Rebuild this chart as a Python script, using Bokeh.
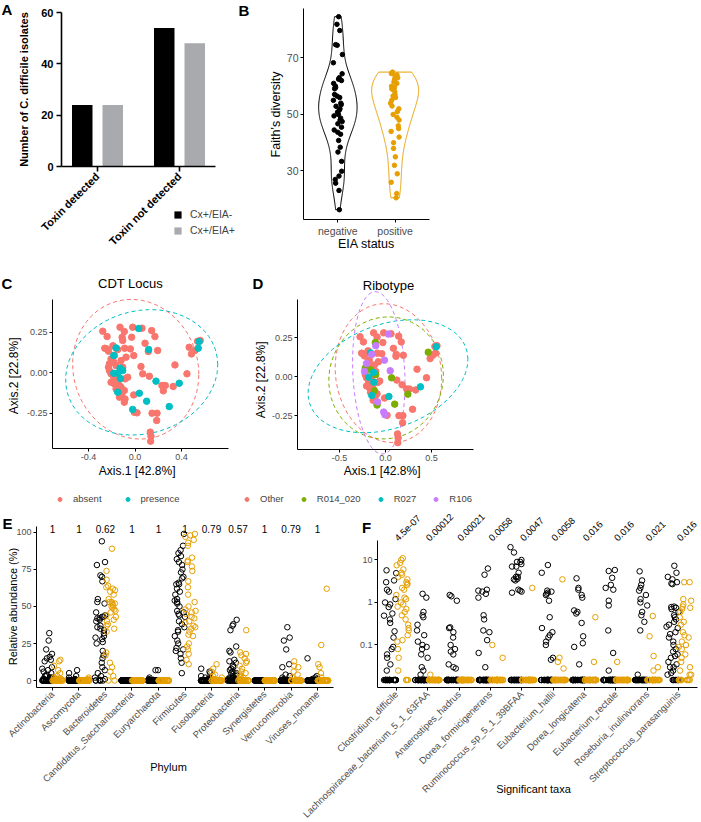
import numpy as np
from bokeh.plotting import figure
from bokeh.layouts import column, row
from bokeh.models import (ColumnDataSource, FixedTicker, Range1d, Label, LabelSet,
                          Legend, LegendItem, PrintfTickFormatter, LinearAxis, LogAxis,
                          LogScale)
from bokeh.transform import jitter, dodge
from bokeh.core.properties import value
from bokeh.embed import file_html
from bokeh.resources import INLINE

FONT = "Liberation Sans"
GREY30 = "#4D4D4D"
ORANGE = "#E69F00"
HUE = {"absent": "#F8766D", "presence": "#00BFC4", "Other": "#F8766D",
       "R014_020": "#7CAE00", "R027": "#00BFC4", "R106": "#C77CFF"}

# ---------------- data ----------------
# Panel A
a_status = ["Toxin detected", "Toxin not detected"]
a_eia_neg = [24, 54]   # Cx+/EIA-
a_eia_pos = [24, 48]   # Cx+/EIA+

# Panel B: Faith's diversity
b_groups = ["negative", "positive"]
b_faith_neg = [84.6, 81.9, 79.7, 74.7, 74.5, 71.2, 68.3, 64.4, 63, 62.5, 62, 61, 60, 59.5, 59.1,
               57.1, 56.5, 56, 55, 54, 53.5, 52.9, 52, 51.5, 50.8, 50, 49.5, 48.7, 48, 47.5, 46.7,
               45.5, 44.5, 43.7, 43, 40.8, 38.4, 36.7, 33.4, 29.9, 28.2, 27, 25.7, 23.1, 16.3]
b_faith_pos = [65, 64.5, 64, 63.5, 63, 62.5, 62, 61.5, 61, 60, 59.5, 59, 58, 57, 56.5, 56, 55,
               54, 53, 52, 51, 50, 49, 48, 46, 45, 44, 42, 40, 38, 35, 32, 29, 26, 22, 20.5]

# Panels C/D: PCoA
pc_axis1 = [-0.277, -0.240, -0.129, -0.092, -0.111, -0.106, -0.020, 0.060, 0.143, 0.171,
            0.086, 0.194, -0.011, -0.089, -0.149, -0.177, -0.243, -0.228, -0.206, -0.220,
            -0.228, -0.220, -0.183, -0.163, -0.206, -0.183, -0.149, -0.177, -0.134, -0.206,
            -0.163, -0.120, -0.092, -0.114, -0.086, -0.134, -0.092, -0.006, 0.017, -0.011,
            0.051, 0.066, 0.123, 0.231, 0.260, 0.243, 0.328, 0.343, 0.446, 0.465,
            0.485, 0.514, 0.537, 0.560, 0.146, 0.189, 0.186, 0.131, 0.137, 0.134,
            -0.086, -0.063, -0.106, -0.120, -0.077, -0.040, -0.029, -0.260, -0.190, 0.114,
            0.031, -0.163, -0.183, -0.129, -0.183, -0.149, -0.106, -0.126, -0.149, -0.020,
            0.037, 0.100, 0.180, 0.380, 0.294, 0.117, 0.543, 0.551]
pc_axis2 = [0.255, 0.222, 0.280, 0.253, 0.218, 0.198, 0.280, 0.274, 0.259, 0.222,
            0.181, 0.136, 0.105, 0.150, 0.142, 0.105, 0.146, 0.132, 0.084, 0.054,
            0.033, 0.012, 0.064, 0.043, -0.008, -0.029, -0.049, -0.070, -0.080, -0.060,
            -0.101, -0.091, -0.111, -0.132, -0.163, -0.152, -0.183, -0.245, -0.249, -0.138,
            0.037, -0.008, -0.023, -0.080, -0.080, -0.113, -0.086, 0.047, -0.008, 0.156,
            0.115, 0.136, 0.193, 0.198, -0.251, -0.251, -0.296, -0.368, -0.393, -0.424,
            -0.039, -0.029, 0.033, 0.074, 0.095, 0.146, 0.218, 0.150, 0.165, 0.130,
            0.272, 0.152, 0.105, 0.027, -0.004, -0.004, 0.012, -0.037, -0.121, -0.228,
            -0.128, -0.177, -0.053, -0.066, -0.210, 0.142, 0.150, 0.191]
cdt_locus = ["absent"] * 70 + ["presence"] * 18
O, G, C27, P = "Other", "R014_020", "R027", "R106"
ribotype = [O, O, O, O, G, P, O, O, O, O,
            O, O, P, O, P, O, O, O, P, G,
            P, O, O, G, O, O, O, O, O, O,
            O, G, O, O, P, O, G, P, O, O,
            P, G, O, O, O, G, O, O, O, G,
            O, O, O, O, O, O, O, O, O, O,
            O, O, O, O, O, O, O, O, O, O,
            P, C27, O, C27, C27, O, G, C27, C27, P,
            C27, G, O, C27, O, O, O, C27]
cdt_levels = ["absent", "presence"]
ribo_levels = ["Other", "R014_020", "R027", "R106"]

# Panel E: relative abundance per phylum (EIA negative / positive)
N_NEG, N_POS = 43, 36
e_phyla = ["Actinobacteria", "Ascomycota", "Bacteroidetes", "Candidatus_Saccharibacteria",
           "Euryarchaeota", "Firmicutes", "Fusobacteria", "Proteobacteria", "Synergistetes",
           "Verrucomicrobia", "Viruses_noname"]
e_pvalue = ["1", "1", "0.62", "1", "1", "1", "0.79", "0.57", "1", "0.79", "1"]
e_neg = [
    [32, 27, 21, 18, 16, 15, 14, 13, 9, 8, 7, 6, 5, 4, 3, 3, 2, 2, 2, 1, 1, 1, 0.5, 0.5],
    [7, 5, 3, 2, 1, 1, 0.5],
    [94, 80, 78, 71, 70, 67, 55, 53, 52, 46, 44, 43, 43, 42, 42, 41, 40, 37, 36, 35, 34, 32,
     30, 29, 28, 26, 25, 20, 17, 15, 12, 9, 7, 5, 3, 2, 1, 0.5],
    [],
    [7, 7, 2, 1, 0.5],
    [99, 91, 88, 86, 84, 82, 80, 78, 75, 73, 70, 69, 66, 65, 65, 62, 60, 58, 55, 54, 53, 52,
     50, 47, 46, 45, 44, 43, 40, 38, 36, 34, 33, 30, 27, 25, 22, 21, 20, 18, 15, 12, 5],
    [8, 6, 5, 3, 2, 1, 1, 0.5],
    [41, 38, 37, 34, 23, 20, 19, 14, 13, 12, 10, 9, 8, 7, 6, 5, 5, 4, 3, 3, 2, 2, 1, 1, 1, 0.5, 0.5],
    [],
    [36, 29, 27, 21, 11, 9, 4, 3, 2, 1],
    [15, 3, 2, 1, 1],
]
e_pos = [
    [14, 13, 10, 7, 5, 3, 2, 2, 1, 1, 1, 0.5],
    [2, 1, 0.5],
    [89, 74, 68, 64, 63, 62, 61, 60, 58, 55, 53, 53, 52, 52, 51, 50, 49, 48, 47, 46, 44, 43,
     41, 40, 38, 37, 35, 33, 19, 17, 12, 9, 6, 3],
    [],
    [],
    [99, 98, 97, 95, 93, 91, 83, 81, 80, 77, 74, 67, 63, 58, 53, 50, 48, 47, 46, 45, 43, 42,
     40, 39, 37, 36, 35, 33, 31, 30, 25, 23, 21, 18, 14, 11],
    [11, 8, 6, 4, 3, 2, 1],
    [34, 19, 18, 17, 15, 13, 12, 10, 8, 6, 5, 4, 3, 2, 2, 1],
    [],
    [13, 10, 9, 6, 4, 2],
    [62, 24, 11, 9, 5, 2],
]

# Panel F: significant taxa (log scale, zero abundance drawn at the floor)
F_FLOOR = 0.015
f_taxa = ["Clostridium_difficile", "Lachnospiraceae_bacterium_5_1_63FAA", "Anaerostipes_hadrus",
          "Dorea_formicigenerans", "Ruminococcus_sp_5_1_39BFAA", "Eubacterium_hallii",
          "Dorea_longicatena", "Eubacterium_rectale", "Roseburia_inulinivorans",
          "Streptococcus_parasanguinis"]
f_pvalue = ["4.5e-07", "0.00012", "0.00021", "0.0058", "0.0047", "0.0058", "0.016", "0.016",
            "0.021", "0.016"]
f_neg = [
    [5.7, 4.9, 3.3, 3.0, 2.0, 1.8, 1.2, 1.0, 0.9, 0.78, 0.55, 0.49, 0.4, 0.33, 0.21, 0.15,
     0.09, 0.08, 0.06, 0.05, 0.035, 0.025],
    [1.6, 1.3, 0.6, 0.5, 0.45, 0.3, 0.22, 0.17, 0.12, 0.1, 0.09, 0.08, 0.06, 0.05, 0.03, 0.025, 0.02],
    [1.5, 1.4, 1.1, 0.26, 0.25, 0.2, 0.15, 0.1, 0.08, 0.07, 0.06, 0.035, 0.03, 0.028],
    [6.3, 4.5, 2.0, 1.9, 1.8, 1.6, 1.3, 0.5, 0.4, 0.22, 0.2, 0.13, 0.065, 0.03],
    [20, 15, 10, 9, 9, 8, 7, 7, 5, 4, 4, 3.6, 3.5, 3.3, 2.0, 1.9, 1.8, 1.7],
    [7.6, 5, 1.9, 1.8, 1.7, 1.6, 1.5, 1.1, 0.45, 0.25, 0.2, 0.17, 0.15, 0.12, 0.1, 0.05, 0.045],
    [3.7, 2.2, 2.0, 1.5, 1.3, 0.65, 0.6, 0.55, 0.33, 0.16, 0.11, 0.09, 0.035],
    [5.8, 5.5, 3.8, 2.6, 2.2, 2.0, 1.1, 0.85, 0.22, 0.065, 0.025],
    [5.4, 3.3, 2.6, 2.2, 1.9, 1.5, 1.2, 1.0, 0.85, 0.6, 0.5, 0.35, 0.22, 0.02],
    [7.3, 5, 4, 3.5, 3, 2.8, 2.7, 0.8, 0.78, 0.75, 0.7, 0.6, 0.5, 0.45, 0.4, 0.35, 0.3, 0.27,
     0.25, 0.2, 0.18, 0.15, 0.12, 0.1, 0.08, 0.07, 0.06, 0.055, 0.05, 0.04, 0.035, 0.03, 0.03,
     0.025, 0.022, 0.02],
]
f_pos = [
    [11, 10, 8.5, 7.5, 6, 5, 4.5, 4, 3.5, 3, 2.8, 2.6, 2.2, 2, 1.5, 1.3, 1.2, 1, 0.9, 0.8, 0.7,
     0.6, 0.5, 0.4, 0.3, 0.25, 0.22, 0.17, 0.13, 0.12, 0.08, 0.05, 0.025],
    [0.02],
    [],
    [0.1, 0.05],
    [2.2],
    [3.5, 0.05, 0.04, 0.028],
    [0.45, 0.04],
    [0.04],
    [0.48, 0.16, 0.055, 0.03, 0.025],
    [3, 3, 1.2, 1.1, 0.9, 0.8, 0.75, 0.7, 0.6, 0.45, 0.35, 0.3, 0.2, 0.17, 0.15, 0.12, 0.1,
     0.09, 0.08, 0.06, 0.05, 0.04, 0.03, 0.025, 0.02, 0.02],
]


# ---------------- helpers ----------------
def style_axis(ax, size="9px"):
    ax.axis_line_color = "black"
    ax.axis_line_width = 1
    ax.major_tick_line_color = "black"
    ax.major_tick_out = 3
    ax.major_tick_in = 0
    ax.minor_tick_line_color = None
    ax.major_label_text_color = GREY30
    ax.major_label_text_font = FONT
    ax.major_label_text_font_size = size
    ax.major_label_standoff = 2


def frame_ranges(W, H, box, xd, yd, ylog=False):
    """box = (left, top, right, bottom) pixel edges of the data area inside the figure."""
    L, T, R, B = box
    sx = (xd[1] - xd[0]) / (R - L)
    xr = Range1d(xd[0] - L * sx, xd[1] + (W - R) * sx)
    if ylog:
        l0, l1 = np.log10(yd[0]), np.log10(yd[1])
        sy = (l1 - l0) / (B - T)
        yr = Range1d(10 ** (l0 - (H - B) * sy), 10 ** (l1 + T * sy))
    else:
        sy = (yd[1] - yd[0]) / (B - T)
        yr = Range1d(yd[0] - (H - B) * sy, yd[1] + T * sy)
    return xr, yr


def bare_figure(W, H, xr, yr, **kw):
    p = figure(width=W, height=H, x_range=xr, y_range=yr, output_backend="svg",
               toolbar_location=None, x_axis_location=None, y_axis_location=None,
               min_border=0, **kw)
    p.center = [r for r in p.center if r.__class__.__name__ != "Grid"]
    p.outline_line_color = None
    p._H = H
    return p


def add_axes(p, xd, yd, ylog=False, name=None):
    kw = {} if name is None else dict(x_range_name=name, y_range_name=name)
    yax = (LogAxis if ylog else LinearAxis)(fixed_location=xd[0], bounds=tuple(yd), **kw)
    xax = LinearAxis(fixed_location=yd[0], bounds=tuple(xd), **kw)
    style_axis(yax)
    style_axis(xax)
    p.add_layout(yax, "left")
    p.add_layout(xax, "below")
    return xax, yax


def make_panel(W, H, box, xd, yd):
    xr, yr = frame_ranges(W, H, box, xd, yd)
    p = bare_figure(W, H, xr, yr)
    xax, yax = add_axes(p, xd, yd)
    return p, xax, yax


def note(p, x, y, text, size, bold=False, align="center", angle=0):
    p.add_layout(Label(x=x, y=p._H - y, x_units="screen", y_units="screen", text=text,
                       text_font=FONT, text_font_size=size,
                       text_font_style="bold" if bold else "normal",
                       text_align=align, text_baseline="middle", angle=angle,
                       text_color="black"))


def ticks(ax, vals, labels=None):
    ax.ticker = FixedTicker(ticks=list(vals))
    if labels is not None:
        ax.major_label_overrides = dict(zip(vals, labels))


# ---------------- Panel A ----------------
pA, xA, yA = make_panel(238, 250, (61, 12, 215, 166), (0.561, 2.439), (0, 60))
srcA = ColumnDataSource(dict(x=[1, 2], neg=a_eia_neg, pos=a_eia_pos))
rA1 = pA.vbar(x=dodge("x", -0.186), top="neg", width=0.25, source=srcA,
              fill_color="black", line_color=None)
rA2 = pA.vbar(x=dodge("x", 0.186), top="pos", width=0.25, source=srcA,
              fill_color="#A9AAAE", line_color=None)
for ax in (xA, yA):
    ax.axis_line_width = 1.6
    ax.major_tick_line_width = 1.6
    ax.major_tick_out = 5
    ax.major_label_text_color = "black"
    ax.major_label_text_font_style = "bold"
    ax.major_label_text_font_size = "11px"
    ax.major_label_standoff = 3
ticks(yA, [0, 20, 40, 60])
ticks(xA, [1, 2], a_status)
xA.major_label_orientation = np.pi / 4
legA = Legend(items=[LegendItem(label="Cx+/EIA-", renderers=[rA1]),
                     LegendItem(label="Cx+/EIA+", renderers=[rA2])],
              location=(173, 14), orientation="vertical", padding=0, margin=0, spacing=4,
              glyph_width=9, glyph_height=9, label_height=9, label_standoff=8,
              label_text_font=FONT, label_text_font_size="10.5px",
              border_line_color=None, background_fill_alpha=0)
pA.add_layout(legA)
note(pA, 1, 9, "A", "15px", bold=True, align="left")
note(pA, 23, 89, "Number of C. difficile isolates", "11px", bold=True, angle=np.pi / 2)


# ---------------- Panel B ----------------
def kde(vals, n_grid=200):
    v = np.asarray(vals, float)
    n = v.size
    q75, q25 = np.percentile(v, [75, 25])
    bw = 0.9 * min(v.std(ddof=1), (q75 - q25) / 1.34) * n ** -0.2
    g = np.linspace(v.min(), v.max(), n_grid)
    d = np.exp(-0.5 * ((g[:, None] - v[None, :]) / bw) ** 2).sum(1) / (n * bw * np.sqrt(2 * np.pi))
    return g, d


pB, xB, yB = make_panel(202, 250, (65, 8, 191, 219), (0.4, 2.6), (12.83, 87.5))
dens = [kde(b_faith_neg), kde(b_faith_pos)]
dmax = max(d.max() for _, d in dens)
for k, ((g, d), col, vals) in enumerate(zip(dens, ["black", ORANGE], [b_faith_neg, b_faith_pos])):
    hw = d / dmax * 0.41
    xs = np.concatenate([k + 1 - hw, (k + 1 + hw)[::-1]])
    ys = np.concatenate([g, g[::-1]])
    pB.patch(xs, ys, fill_alpha=0, line_color=col, line_width=1)
    src = ColumnDataSource(dict(x=[k + 1] * len(vals), y=vals))
    pB.scatter(x=jitter("x", 0.16), y="y", source=src, size=4.5, color=col)
ticks(yB, [30, 50, 70])
ticks(xB, [1, 2], b_groups)
yB.major_label_text_font_size = "10.5px"
xB.major_label_text_font_size = "10.5px"
note(pB, 0, 10, "B", "15px", bold=True, align="left")
note(pB, 37, 114, "Faith\u2019s diversity", "12.5px", angle=np.pi / 2)
note(pB, 128, 243, "EIA status", "12.5px")


# ---------------- Panels C & D ----------------
def ellipse_pts(xs, ys, level=0.95, segments=52):
    pts = np.column_stack([xs, ys])
    center = pts.mean(0)
    cov = np.cov(pts.T)
    d = len(pts) - 1
    fq = d / 2 * ((1 - level) ** (-2 / d) - 1)   # F(2, d) quantile
    radius = np.sqrt(2 * fq)
    th = np.linspace(0, 2 * np.pi, segments)
    unit = np.column_stack([np.cos(th), np.sin(th)])
    e = center + radius * unit @ np.linalg.cholesky(cov).T
    return e[:, 0], e[:, 1]


def pcoa_panel(p, groups, levels, leg_loc, spacing):
    items = []
    x1 = np.array(pc_axis1)
    x2 = np.array(pc_axis2)
    gr = np.array(groups)
    for lev in levels:
        m = gr == lev
        ex, ey = ellipse_pts(x1[m], x2[m])
        p.line(ex, ey, line_color=HUE[lev], line_dash="4 3", line_width=1)
    for lev in levels:
        m = gr == lev
        src = ColumnDataSource(dict(x=x1[m], y=x2[m]))
        rs = p.scatter("x", "y", source=src, size=6.5, color=HUE[lev])
        rl = p.line(x=[], y=[], line_color=HUE[lev], line_width=1)
        items.append(LegendItem(label=lev, renderers=[rl, rs]))
    leg = Legend(items=items, location=leg_loc, orientation="horizontal", padding=0, margin=0,
                 spacing=spacing, glyph_width=19, glyph_height=10, label_height=10,
                 label_standoff=4, label_text_font=FONT, label_text_font_size="9.5px",
                 border_line_color=None, background_fill_alpha=0)
    p.add_layout(leg)


pC, xC, yC = make_panel(235, 258, (52, 49, 228, 198), (-0.709, 0.803), (-0.469, 0.451))
pcoa_panel(pC, cdt_locus, cdt_levels, (50, 4), 16)
ticks(xC, [-0.4, 0, 0.4])
ticks(yC, [-0.25, 0, 0.25])
yC.formatter = PrintfTickFormatter(format="%.2f")
xC.formatter = PrintfTickFormatter(format="%.1f")
note(pC, 1, 33, "C", "15px", bold=True, align="left")
note(pC, 130, 33, "CDT Locus", "13px")
note(pC, 140, 220, "Axis.1   [42.8%]", "12px")
note(pC, 13, 122, "Axis.2   [22.8%]", "12px", angle=np.pi / 2)

pD, xD, yD = make_panel(465, 258, (62, 49, 238, 199), (-0.957, 0.957), (-0.468, 0.494))
pcoa_panel(pD, ribotype, ribo_levels, (2, 4), 10)
ticks(xD, [-0.5, 0, 0.5])
ticks(yD, [-0.25, 0, 0.25])
yD.formatter = PrintfTickFormatter(format="%.2f")
xD.formatter = PrintfTickFormatter(format="%.1f")
note(pD, 17, 33, "D", "15px", bold=True, align="left")
note(pD, 153, 35, "Ribotype", "13px")
note(pD, 150, 220, "Axis.1   [42.8%]", "12px")
note(pD, 25, 126, "Axis.2   [22.8%]", "12px", angle=np.pi / 2)


# ---------------- Panels E & F (one canvas, two coordinate systems) ----------------
def strip_source(groups_vals, offset, n, floor=None):
    xs, ys = [], []
    for i, vals in enumerate(groups_vals):
        full = list(vals) + [0] * (n - len(vals))
        if floor is not None:
            full = [v if v > 0 else floor for v in full]
        xs += [i + 1 + offset] * n
        ys += full
    return ColumnDataSource(dict(x=xs, y=ys))


W3, H3 = 700, 312
e_xd, e_yd = (0.4, 11.6), (-4.7, 104)
f_xd, f_yd = (0.4, 10.6), (0.01, 28.7)
xrE, yrE = frame_ranges(W3, H3, (36, 18, 333, 179), e_xd, e_yd)
xrF, yrF = frame_ranges(W3, H3, (377, 32, 697, 179), f_xd, f_yd, ylog=True)
pEF = bare_figure(W3, H3, xrE, yrE, extra_x_ranges={"f": xrF}, extra_y_ranges={"f": yrF},
                  extra_y_scales={"f": LogScale()})
xE, yE = add_axes(pEF, e_xd, e_yd)
xF, yF = add_axes(pEF, f_xd, f_yd, ylog=True, name="f")
xE.major_label_text_font_size = "9.5px"
xF.major_label_text_font_size = "9.5px"

for vals, off, n, col in [(e_neg, -0.2, N_NEG, "black"), (e_pos, 0.2, N_POS, ORANGE)]:
    pEF.scatter(x=jitter("x", 0.4), y="y", source=strip_source(vals, off, n), size=5.5,
                marker="circle", fill_alpha=0, line_color=col, line_width=1)
ticks(yE, [0, 25, 50, 75, 100])
ticks(xE, list(range(1, 12)), e_phyla)
xE.major_label_orientation = np.pi / 4
srcEp = ColumnDataSource(dict(x=list(range(1, 12)), y=[102.5] * 11, t=e_pvalue))
pEF.add_layout(LabelSet(x="x", y="y", text="t", source=srcEp, text_align="center",
                        text_baseline="middle", text_font=value(FONT),
                        text_font_size=value("10px"), text_color="black"))
note(pEF, 2, 15, "E", "15px", bold=True, align="left")
note(pEF, 12, 98, "Relative abundance (%)", "11px", angle=np.pi / 2)
note(pEF, 168, 258, "Phylum", "11px")

for vals, off, n, col in [(f_neg, -0.2, N_NEG, "black"), (f_pos, 0.2, N_POS, ORANGE)]:
    pEF.scatter(x=jitter("x", 0.4), y="y", source=strip_source(vals, off, n, F_FLOOR),
                size=5.5, marker="circle", fill_alpha=0, line_color=col, line_width=1,
                x_range_name="f", y_range_name="f")
ticks(yF, [0.1, 1, 10], ["0.1", "1", "10"])
ticks(xF, list(range(1, 11)), f_taxa)
xF.major_label_orientation = np.pi / 4
srcFp = ColumnDataSource(dict(x=list(range(1, 11)), y=[30] * 10, t=f_pvalue))
pEF.add_layout(LabelSet(x="x", y="y", text="t", source=srcFp, text_align="left",
                        text_baseline="middle", angle=np.pi / 4, text_font=value(FONT),
                        text_font_size=value("9.5px"), text_color="black",
                        x_range_name="f", y_range_name="f"))
note(pEF, 366, 19, "F", "15px", bold=True)
note(pEF, 533, 280, "Significant taxa", "11px")

layout = column(row(pA, pB), row(pC, pD), pEF)
open("out.html", "w").write(file_html(layout, INLINE))
